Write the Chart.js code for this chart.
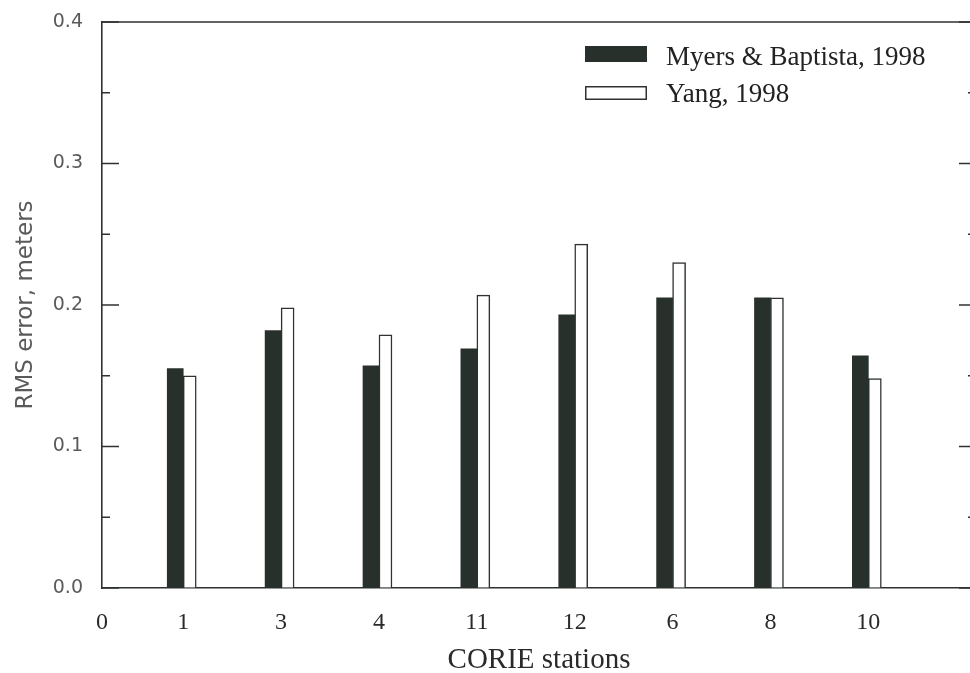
<!DOCTYPE html>
<html>
<head>
<meta charset="utf-8">
<script src="https://cdn.jsdelivr.net/npm/chart.js@4"></script>
<style>
  html, body { margin: 0; padding: 0; background: #fff; overflow: hidden; }
  #wrap { width: 990px; height: 700px; }
</style>
</head>
<body>
<div id="wrap"><canvas id="chart" width="990" height="700"></canvas></div>
<script>
const stations = ['1', '3', '4', '11', '12', '6', '8', '10'];
const myers = [0.155, 0.182, 0.157, 0.169, 0.193, 0.205, 0.205, 0.164];
const yang = [0.150, 0.198, 0.179, 0.207, 0.243, 0.230, 0.205, 0.148];
const yTicks = [0, 0.1, 0.2, 0.3, 0.4];
const yMinorTicks = [0.05, 0.15, 0.25, 0.35];
const xMin = 0.17, xMax = 9.1;
const xLabels = ['0'].concat(stations);

const ink = '#2f3330';
const barFill = '#28302b';

const toPoints = vals => vals.map((v, i) => ({ x: i + 1, y: v }));

// inward tick marks, top frame line and right axis
const frame = {
    id: 'frame',
    afterDraw(chart) {
        const { ctx, chartArea: a, scales: { y } } = chart;
        ctx.save();
        ctx.strokeStyle = ink;
        ctx.lineWidth = 1.6;
        ctx.beginPath();
        ctx.moveTo(a.left, a.top);
        ctx.lineTo(a.right, a.top);
        ctx.lineTo(a.right, a.bottom);
        ctx.stroke();
        const tick = (v, len) => {
            const py = y.getPixelForValue(v);
            ctx.moveTo(a.left, py);
            ctx.lineTo(a.left + len, py);
            ctx.moveTo(a.right, py);
            ctx.lineTo(a.right - len, py);
        };
        ctx.beginPath();
        yTicks.forEach(v => tick(v, 17));
        yMinorTicks.forEach(v => tick(v, 8));
        ctx.stroke();
        ctx.restore();
    }
};

// legend in the upper right corner
const boxLegend = {
    id: 'boxLegend',
    afterDraw(chart, args, opts) {
        const { ctx } = chart;
        ctx.save();
        ctx.font = '27px "Liberation Serif"';
        ctx.textBaseline = 'alphabetic';
        chart.data.datasets.forEach((ds, i) => {
            const row = opts.rows[i];
            ctx.fillStyle = ds.backgroundColor;
            ctx.fillRect(opts.x, row.top, opts.boxW, row.h);
            if (ds.borderWidth) {
                ctx.strokeStyle = ds.borderColor;
                ctx.lineWidth = 1.5;
                ctx.strokeRect(opts.x + 0.75, row.top + 0.75, opts.boxW - 1.5, row.h - 1.5);
            }
            ctx.fillStyle = '#222';
            ctx.fillText(ds.label, opts.textX, row.base);
        });
        ctx.restore();
    }
};

new Chart(document.getElementById('chart').getContext('2d'), {
    type: 'bar',
    data: {
        datasets: [{
            label: 'Myers & Baptista, 1998',
            data: toPoints(myers),
            backgroundColor: barFill,
            borderWidth: 0,
            barThickness: 16
        }, {
            label: 'Yang, 1998',
            data: toPoints(yang),
            backgroundColor: '#ffffff',
            borderColor: ink,
            borderWidth: 1.5,
            barThickness: 13
        }]
    },
    options: {
        responsive: false,
        animation: false,
        devicePixelRatio: 1,
        layout: { padding: { top: 22, right: 14, left: 0, bottom: 0 } },
        plugins: {
            legend: { display: false },
            tooltip: { enabled: false },
            boxLegend: {
                x: 585, textX: 666, boxW: 62,
                rows: [{ top: 46, h: 16, base: 65 }, { top: 86, h: 14, base: 102 }]
            }
        },
        scales: {
            x: {
                type: 'linear',
                offset: false,
                min: xMin,
                max: xMax,
                afterFit: s => { s.height = 112; s.paddingLeft = 0; s.paddingRight = 0; },
                afterBuildTicks: s => {
                    s.ticks = [xMin].concat(stations.map((_, i) => i + 1)).map(v => ({ value: v }));
                },
                grid: { drawOnChartArea: false, drawTicks: false, offset: false },
                border: { color: ink, width: 1.6 },
                ticks: {
                    autoSkip: false,
                    maxRotation: 0,
                    padding: 20,
                    color: '#2a2a2a',
                    font: { family: 'Liberation Serif', size: 24 },
                    callback: (v, i) => xLabels[i]
                },
                title: {
                    display: true,
                    text: 'CORIE stations',
                    color: '#2a2a2a',
                    font: { family: 'Liberation Serif', size: 29 },
                    padding: { top: 0, bottom: 22 }
                }
            },
            y: {
                min: 0,
                max: 0.4,
                afterFit: s => { s.width = 102; s.paddingTop = 0; s.paddingBottom = 0; },
                afterBuildTicks: s => { s.ticks = yTicks.map(v => ({ value: v })); },
                grid: { drawOnChartArea: false, drawTicks: false },
                border: { color: ink, width: 1.6 },
                ticks: {
                    padding: 19,
                    color: '#5a5a5a',
                    font: { family: 'DejaVu Sans', size: 19 },
                    callback: v => v.toFixed(1)
                },
                title: {
                    display: true,
                    text: 'RMS error, meters',
                    color: '#5a5a5a',
                    font: { family: 'DejaVu Sans', size: 23 },
                    padding: { top: 12, bottom: 0 }
                }
            }
        }
    },
    plugins: [frame, boxLegend]
});
</script>
</body>
</html>
